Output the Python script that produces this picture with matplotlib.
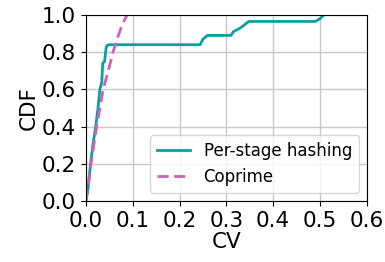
import matplotlib
matplotlib.use("Agg")
import matplotlib.pyplot as plt

# CDF of CV
stage_cv = [0.0, 0.004, 0.010, 0.015, 0.021, 0.026, 0.030, 0.034, 0.036, 0.040,
            0.043, 0.045, 0.050, 0.244, 0.250, 0.260, 0.310, 0.315, 0.330,
            0.348, 0.490, 0.500, 0.508]
stage_cdf = [0.0, 0.05, 0.20, 0.30, 0.40, 0.50, 0.60, 0.64, 0.74, 0.75,
             0.82, 0.835, 0.84, 0.84, 0.87, 0.89, 0.89, 0.91, 0.93,
             0.965, 0.965, 0.98, 1.0]

coprime_cv = [0.0, 0.005, 0.011, 0.023, 0.037, 0.050, 0.058, 0.068, 0.078, 0.088]
coprime_cdf = [0.0, 0.08, 0.20, 0.40, 0.60, 0.72, 0.80, 0.88, 0.95, 1.0]

plt.rcParams['font.size'] = 15.5

fig = plt.figure(figsize=(3.85, 2.62), dpi=100)
ax = fig.add_axes([0.223, 0.233, 0.730, 0.710])

ax.plot(stage_cv, stage_cdf, color='#0aa0a0', lw=2, label='Per-stage hashing')
ax.plot(coprime_cv, coprime_cdf, color='#d060b8', lw=2, ls='--', dashes=(4, 2),
        label='Coprime')

ax.set_xlim(0, 0.6)
ax.set_ylim(0, 1.0)
ax.set_xticks([0.0, 0.1, 0.2, 0.3, 0.4, 0.5, 0.6])
ax.set_yticks([0.0, 0.2, 0.4, 0.6, 0.8, 1.0])
ax.set_xlabel('CV', labelpad=1)
ax.set_ylabel('CDF', labelpad=2)
ax.grid(True, color='#c8c8c8', lw=1)
ax.set_axisbelow(True)

ax.legend(loc='lower right', fontsize=12)

fig.savefig('out.png', dpi=100)
